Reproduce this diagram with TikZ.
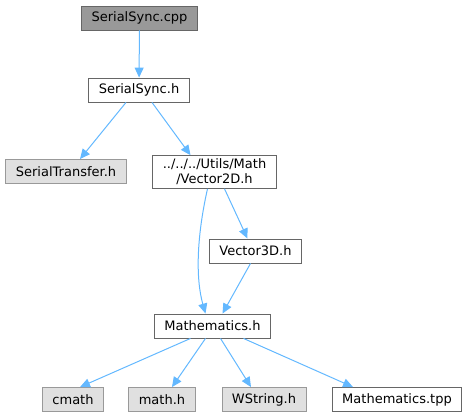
\documentclass[tikz,border=0pt]{standalone}
\usepackage{fontspec}
\setmainfont{DejaVu Sans}
\usetikzlibrary{arrows.meta}
\definecolor{edgeblue}{HTML}{63B8FF}
\definecolor{darkfill}{HTML}{999999}
\definecolor{darkline}{HTML}{666666}
\definecolor{extfill}{HTML}{E0E0E0}
\definecolor{extline}{HTML}{999999}
\tikzset{
    >={Triangle[length=10pt,width=9pt]},
    current/.style={
        rectangle,
        draw=darkline,
        fill=darkfill,
        line width=0.9pt,
        align=center,
        inner xsep=10pt,
        minimum height=24pt
    },
    header/.style={
        rectangle,
        draw=darkline,
        fill=white,
        line width=0.9pt,
        align=center,
        inner xsep=10pt,
        minimum height=24pt
    },
    external/.style={
        rectangle,
        draw=extline,
        fill=extfill,
        line width=0.9pt,
        align=center,
        inner xsep=10pt,
        minimum height=24pt
    },
    edge/.style={
        draw=edgeblue,
        line width=1pt,
        ->
    }
}

\begin{document}
\begin{tikzpicture}[
    x=1pt,
    y=-1pt,
    font=\fontsize{13}{15}\selectfont
]
\useasboundingbox (0,0) rectangle (469,417);

% Source file and its header
\node[current] (cpp) at (139.5,18) {SerialSync.cpp};
\node[header] (sync) at (139,90) {SerialSync.h};

% Second level
\node[external] (transfer) at (66,171.5) {SerialTransfer.h};
\node[header] (vectwo) at (214.5,172) {../../../Utils/Math\\/Vector2D.h};
\node[header] (vecthree) at (255.5,251) {Vector3D.h};

% Maths header
\node[header] (maths) at (212.5,326) {Mathematics.h};

% Included by Mathematics.h
\node[external] (cmath) at (73,399.5) {cmath};
\node[external] (mathh) at (162,399.5) {math.h};
\node[external] (wstring) at (264,399.5) {WString.h};
\node[header] (tpp) at (397,399.5) {Mathematics.tpp};

% Edges
\draw[edge] (cpp) -- (sync);
\draw[edge] ([xshift=-13pt]sync.south) -- ([xshift=14pt]transfer.north);
\draw[edge] ([xshift=13pt]sync.south) -- ([xshift=-24pt]vectwo.north);
\draw[edge] ([xshift=10pt]vectwo.south) -- ([xshift=-8pt]vecthree.north);
\draw[edge] ([xshift=-7pt]vectwo.south)
    .. controls (196,240) and (196,280) .. ([xshift=-7pt]maths.north);
\draw[edge] ([xshift=-5pt]vecthree.south) -- ([xshift=10pt]maths.north);

\draw[edge] ([xshift=-22pt]maths.south) -- ([xshift=7pt]cmath.north);
\draw[edge] ([xshift=-7pt]maths.south) -- ([xshift=10pt]mathh.north);
\draw[edge] ([xshift=8pt]maths.south) -- ([xshift=-13pt]wstring.north);
\draw[edge] ([xshift=31pt]maths.south) -- ([xshift=-44pt]tpp.north);

\end{tikzpicture}
\end{document}
